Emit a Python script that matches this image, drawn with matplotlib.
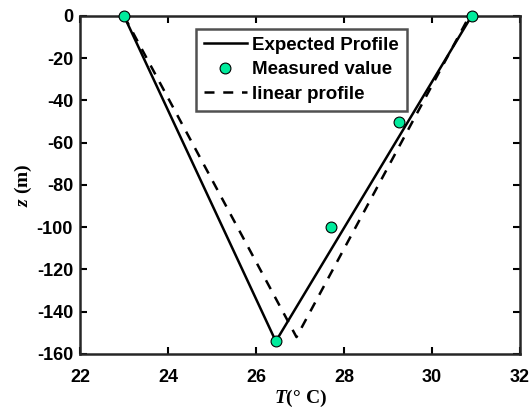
import matplotlib.pyplot as plt
from matplotlib.font_manager import FontProperties

# Data
expected_T = [23.0, 26.45, 30.9]
expected_z = [0, -154, 0]

measured_T = [23.0, 26.45, 27.7, 29.25, 30.9]
measured_z = [0, -154, -100, -50, 0]

linear_T = [23.0, 26.92, 30.85]
linear_z = [0, -152, 0]

xticks = [22, 24, 26, 28, 30, 32]
yticks = [-160, -140, -120, -100, -80, -60, -40, -20, 0]

plt.rcParams['axes.unicode_minus'] = False
plt.rcParams['mathtext.fontset'] = 'custom'
plt.rcParams['mathtext.it'] = 'Liberation Serif:italic:bold'
plt.rcParams['mathtext.rm'] = 'Liberation Serif:bold'

tick_font = FontProperties(family='Liberation Sans', weight='bold', size=13)
leg_font = FontProperties(family='Liberation Sans', weight='bold', size=13.5)

fig = plt.figure(figsize=(5.31, 4.12), dpi=100)
ax = fig.add_axes([0.1507, 0.1408, 0.8286, 0.8204])

ax.plot(expected_T, expected_z, color='black', lw=1.8, label='Expected Profile')
ax.plot(measured_T, measured_z, 'o', color='#00eb9c', mec='black', mew=0.8,
        ms=7.8, label='Measured value', zorder=5, clip_on=False)
ax.plot(linear_T, linear_z, color='black', lw=1.8, ls=(0, (4, 3.5)),
        label='linear profile')

ax.set_xlim(22, 32)
ax.set_ylim(-160, 0)
ax.set_xticks(xticks)
ax.set_xticklabels([str(v) for v in xticks], fontproperties=tick_font)
ax.set_yticks(yticks)
ax.set_yticklabels([str(v) for v in yticks], fontproperties=tick_font)

ax.tick_params(direction='in', length=5, width=1.5, top=True, right=True)
ax.tick_params(axis='x', pad=11)
ax.tick_params(axis='y', pad=5)
for s in ax.spines.values():
    s.set_linewidth(1.8)
    s.set_color('#262626')

ax.set_xlabel(r'$T$(° C)', family='Liberation Serif', fontsize=14,
              fontweight='bold', labelpad=1)
ax.set_ylabel(r'$z$ (m)', family='Liberation Serif', fontsize=14,
              fontweight='bold', labelpad=2)

leg = ax.legend(loc='upper left', bbox_to_anchor=(0.264, 0.961), prop=leg_font,
                frameon=True, fancybox=False, edgecolor='#262626',
                borderpad=0.4, handlelength=2.3, handletextpad=0.3,
                labelspacing=0.4, borderaxespad=0)
leg.get_frame().set_linewidth(1.8)

fig.savefig('out.png', dpi=100)
